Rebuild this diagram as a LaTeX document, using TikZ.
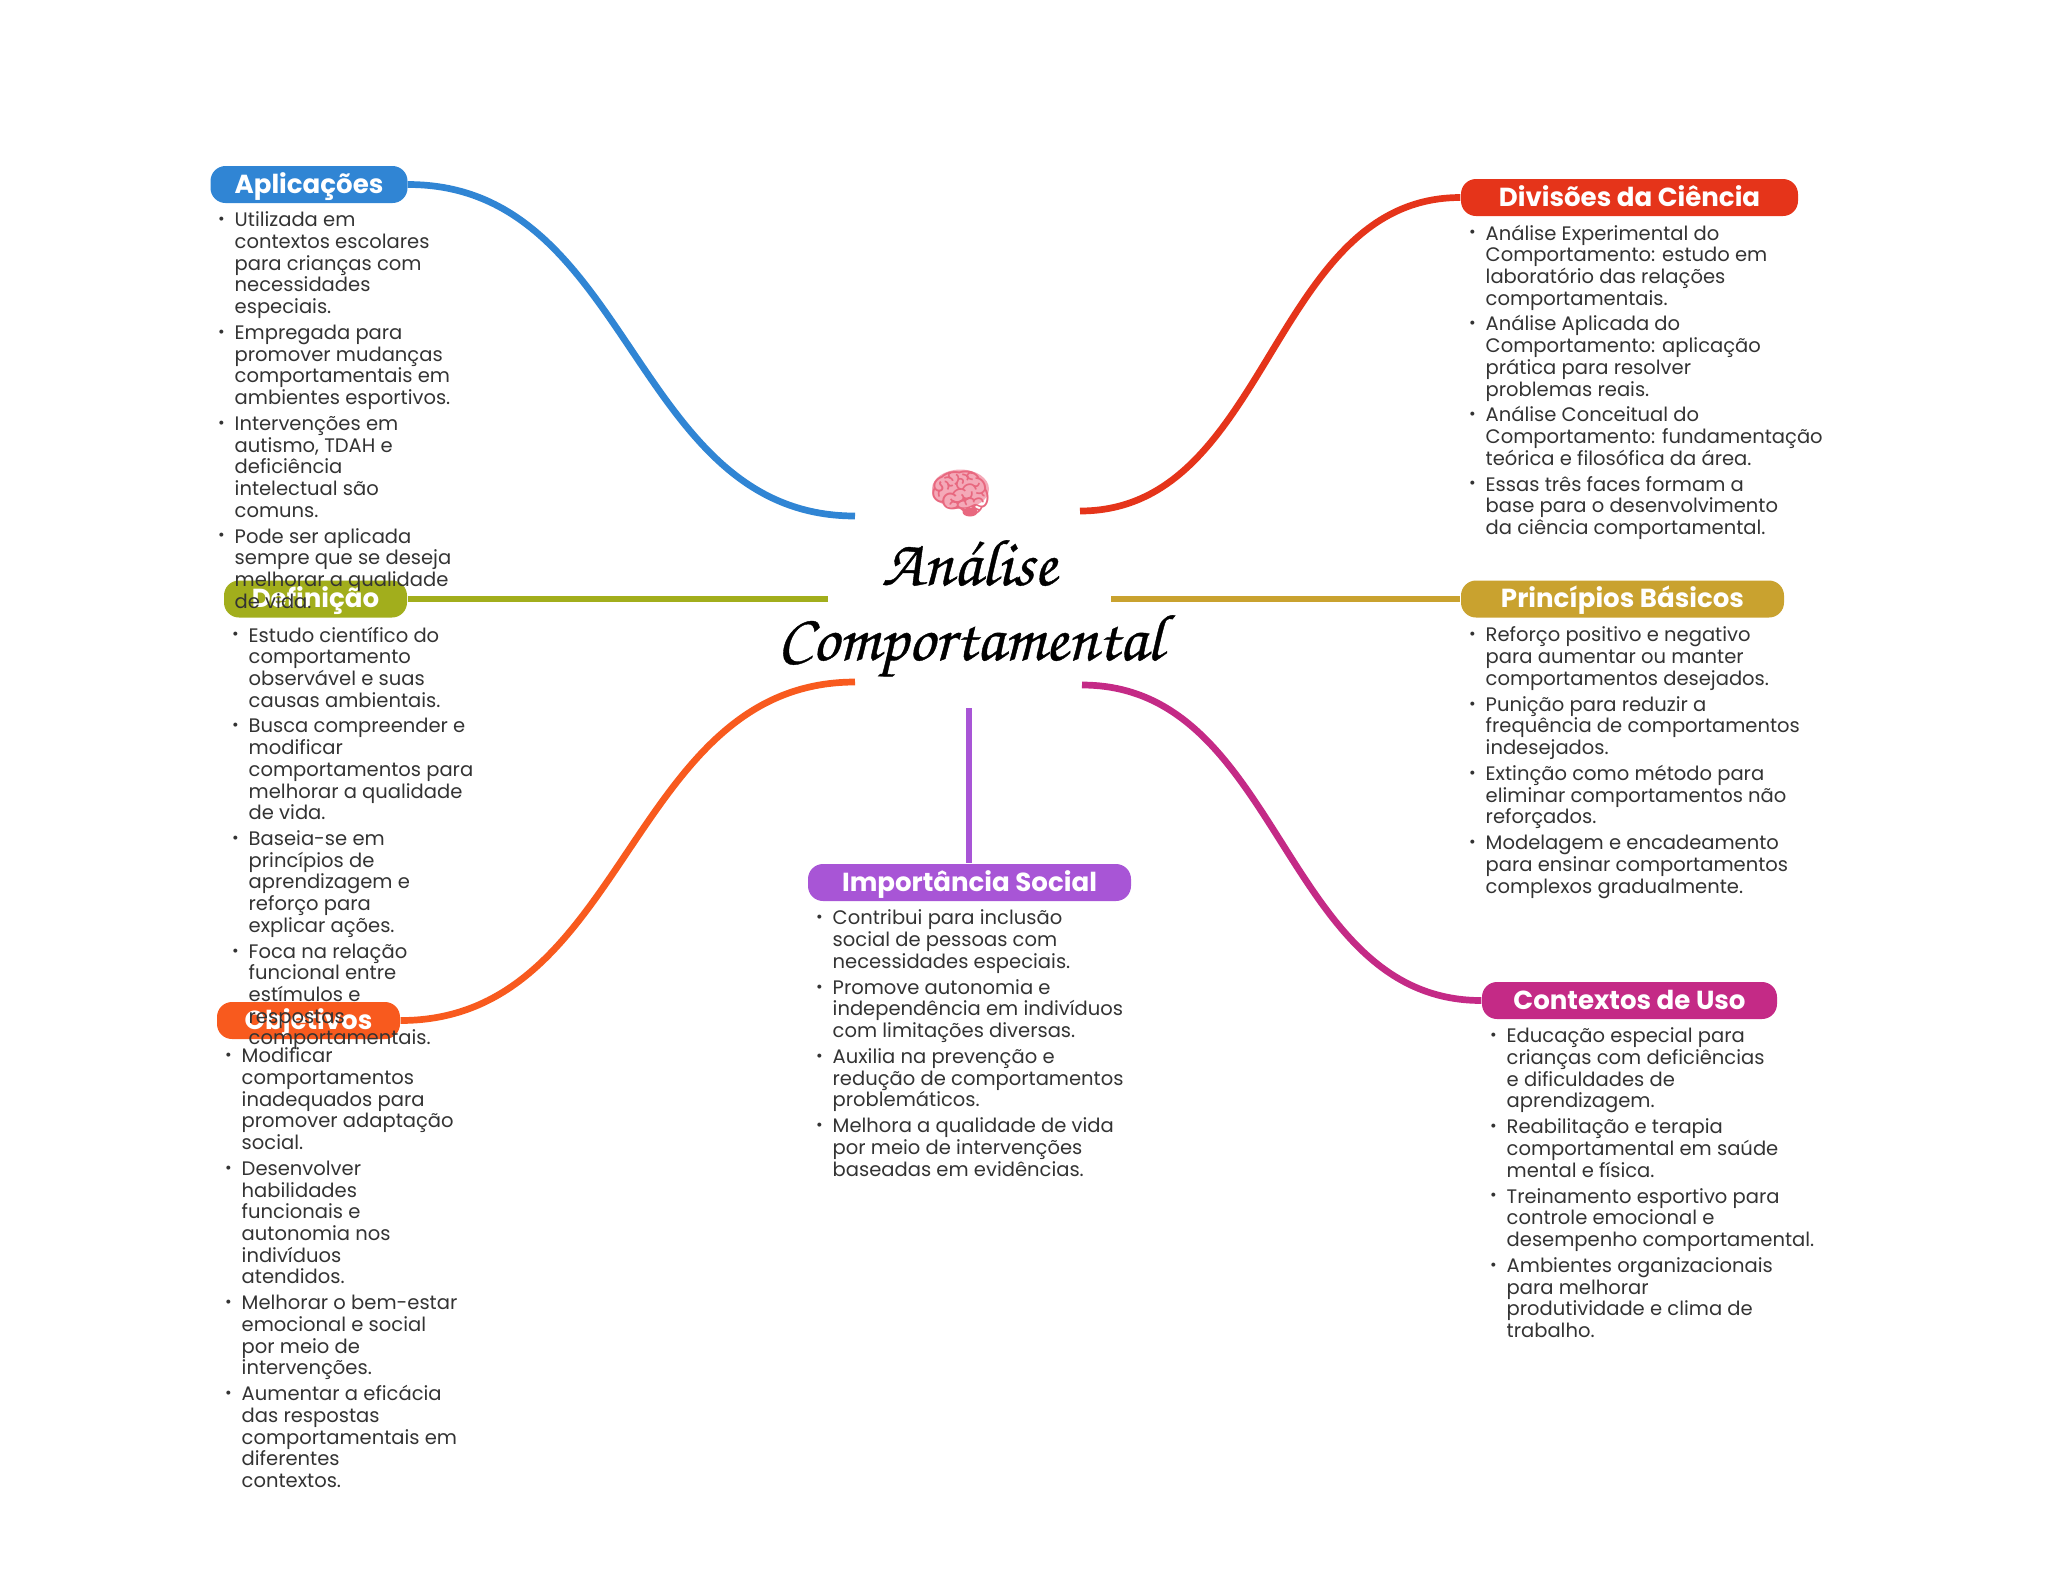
\documentclass[tikz,border=0pt]{standalone}
\usepackage{fontspec}
\setmainfont{Poppins}
\newfontfamily\titlefont[FakeBold=0.6]{TeX Gyre Chorus}
\newfontfamily\emojifont{Noto Emoji}
\usepackage{xcolor}
\usetikzlibrary{positioning,calc}
\definecolor{cblue}{HTML}{3085D4}
\definecolor{cred}{HTML}{E5341A}
\definecolor{cgreen}{HTML}{A2AE1C}
\definecolor{cgold}{HTML}{C9A22F}
\definecolor{corange}{HTML}{F85A1E}
\definecolor{cmagenta}{HTML}{C42A86}
\definecolor{cpurple}{HTML}{A855D6}
\definecolor{bodygray}{HTML}{333333}
\definecolor{brainpink}{HTML}{F4A9B8}
\definecolor{braindark}{HTML}{E8687F}
\lineskiplimit=-100pt
\newcommand{\itm}{\strut\llap{\raisebox{0.2ex}{\fontsize{4.6}{4.6}\selectfont•}\hspace{0.1cm}}}
\tikzset{
  pill/.style={rounded corners=0.15cm,text height=0.27cm,text depth=0.10cm,inner sep=0pt,text=white,font=\fontsize{7.42}{8}\selectfont\bfseries},
  branch/.style={line width=0.067cm},
  itemlist/.style={anchor=north west,align=left,inner sep=0pt,text=bodygray,font=\fontsize{5.56}{6.17}\selectfont},
  headline/.style={anchor=base,inner sep=0pt,font=\fontsize{18.8}{19}\selectfont\titlefont\bfseries},
}
\begin{document}
\begin{tikzpicture}[x=1cm,y=-1cm]
\useasboundingbox (0,0) rectangle (20.48,15.69);
\coordinate (hubBlue) at (8.55,5.16);
\coordinate (hubRed) at (10.80,5.11);
\coordinate (hubGreen) at (8.28,5.99);
\coordinate (hubGold) at (11.11,5.99);
\coordinate (hubOrange) at (8.55,6.82);
\coordinate (hubMagenta) at (10.82,6.85);
\coordinate (hubPurple) at (9.69,7.08);
\node[pill,fill=cblue,minimum width=1.97cm] (apl) at (3.09,1.845) {Aplicações};
\node[pill,fill=cgreen,minimum width=1.83cm] (def) at (3.155,5.99) {Definição};
\node[pill,fill=corange,minimum width=1.83cm] (obj) at (3.085,10.205) {Objetivos};
\node[pill,fill=cpurple,minimum width=3.23cm] (imp) at (9.695,8.825) {Importância Social};
\node[pill,fill=cred,minimum width=3.37cm] (div) at (16.295,1.975) {Divisões da Ciência};
\node[pill,fill=cgold,minimum width=3.23cm] (pri) at (16.225,5.99) {Princípios Básicos};
\node[pill,fill=cmagenta,minimum width=2.95cm] (ctx) at (16.295,10.005) {Contextos de Uso};
\draw[branch,cblue] (hubBlue) .. controls +(-2.24,0) and +(2.24,0) .. (apl.east);
\draw[branch,cred] (hubRed) .. controls +(1.9,0) and +(-1.9,0) .. (div.west);
\draw[branch,cgreen] (hubGreen) -- (def.east);
\draw[branch,cgold] (hubGold) -- (pri.west);
\draw[branch,corange] (hubOrange) .. controls +(-2.27,0) and +(2.27,0) .. (obj.east);
\draw[branch,cmagenta] (hubMagenta) .. controls +(2,0) and +(-2,0) .. (ctx.west);
\draw[branch,cpurple] (hubPurple) -- (imp.north-|hubPurple);
\fill[brainpink] (9.605,4.89) ellipse (0.285 and 0.195);
\fill[braindark] (9.70,5.12) ellipse (0.075 and 0.045);
\node[font=\fontsize{14.5}{15}\selectfont\emojifont,text=braindark] (brain) at (9.61,4.93) {🧠};
\node[headline] (title1) at (9.69,5.85) {Análise};
\node[headline] (title2) at (9.70,6.60) {Comportamental};
\node[itemlist] (aplText) at (2.34,2.11) {\itm Utilizada em\\contextos escolares\\para crianças com\\necessidades\\especiais.\\[0.042cm]
\itm Empregada para\\promover mudanças\\comportamentais em\\ambientes esportivos.\\[0.042cm]
\itm Intervenções em\\autismo, TDAH e\\deficiência\\intelectual são\\comuns.\\[0.042cm]
\itm Pode ser aplicada\\sempre que se deseja\\melhorar a qualidade\\de vida.};
\node[itemlist] (defText) at (2.48,6.26) {\itm Estudo científico do\\comportamento\\observável e suas\\causas ambientais.\\[0.042cm]
\itm Busca compreender e\\modificar\\comportamentos para\\melhorar a qualidade\\de vida.\\[0.042cm]
\itm Baseia-se em\\princípios de\\aprendizagem e\\reforço para\\explicar ações.\\[0.042cm]
\itm Foca na relação\\funcional entre\\estímulos e\\respostas\\comportamentais.};
\node[itemlist] (objText) at (2.41,10.47) {\itm Modificar\\comportamentos\\inadequados para\\promover adaptação\\social.\\[0.042cm]
\itm Desenvolver\\habilidades\\funcionais e\\autonomia nos\\indivíduos\\atendidos.\\[0.042cm]
\itm Melhorar o bem-estar\\emocional e social\\por meio de\\intervenções.\\[0.042cm]
\itm Aumentar a eficácia\\das respostas\\comportamentais em\\diferentes\\contextos.};
\node[itemlist] (impText) at (8.32,9.09) {\itm Contribui para inclusão\\social de pessoas com\\necessidades especiais.\\[0.042cm]
\itm Promove autonomia e\\independência em indivíduos\\com limitações diversas.\\[0.042cm]
\itm Auxilia na prevenção e\\redução de comportamentos\\problemáticos.\\[0.042cm]
\itm Melhora a qualidade de vida\\por meio de intervenções\\baseadas em evidências.};
\node[itemlist] (divText) at (14.85,2.24) {\itm Análise Experimental do\\Comportamento: estudo em\\laboratório das relações\\comportamentais.\\[0.042cm]
\itm Análise Aplicada do\\Comportamento: aplicação\\prática para resolver\\problemas reais.\\[0.042cm]
\itm Análise Conceitual do\\Comportamento: fundamentação\\teórica e filosófica da área.\\[0.042cm]
\itm Essas três faces formam a\\base para o desenvolvimento\\da ciência comportamental.};
\node[itemlist] (priText) at (14.85,6.26) {\itm Reforço positivo e negativo\\para aumentar ou manter\\comportamentos desejados.\\[0.042cm]
\itm Punição para reduzir a\\frequência de comportamentos\\indesejados.\\[0.042cm]
\itm Extinção como método para\\eliminar comportamentos não\\reforçados.\\[0.042cm]
\itm Modelagem e encadeamento\\para ensinar comportamentos\\complexos gradualmente.};
\node[itemlist] (ctxText) at (15.06,10.27) {\itm Educação especial para\\crianças com deficiências\\e dificuldades de\\aprendizagem.\\[0.042cm]
\itm Reabilitação e terapia\\comportamental em saúde\\mental e física.\\[0.042cm]
\itm Treinamento esportivo para\\controle emocional e\\desempenho comportamental.\\[0.042cm]
\itm Ambientes organizacionais\\para melhorar\\produtividade e clima de\\trabalho.};
\end{tikzpicture}
\end{document}
